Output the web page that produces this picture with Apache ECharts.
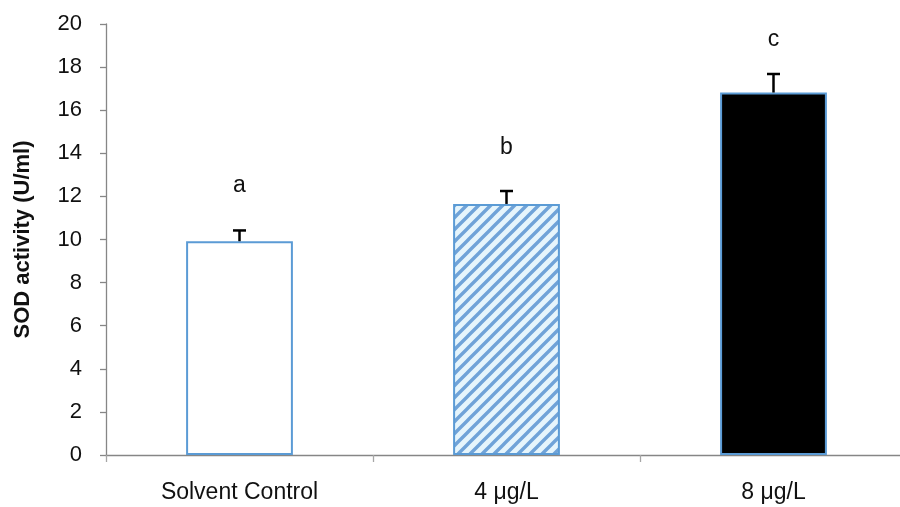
<!DOCTYPE html>
<html>
<head>
<meta charset="utf-8">
<script src="https://cdn.jsdelivr.net/npm/echarts@6/dist/echarts.min.js"></script>
<style>
html,body{margin:0;padding:0;background:#fff;overflow:hidden;}
#c{width:900px;height:507px;}
</style>
</head>
<body>
<div id="c"></div>
<script>
var categories = ['Solvent Control', '4 μg/L', '8 μg/L'];
var values = [9.92, 11.65, 16.82];
var errors = [0.5, 0.6, 0.86];
var letters = ['a', 'b', 'c'];
var letterY = [12.48, 14.25, 19.26];
var yTicks = {min: 0, max: 20, interval: 2};

var FONT = '"Liberation Sans", Arial, sans-serif';

// hatch pattern
var pc = document.createElement('canvas');
pc.width = 12; pc.height = 12;
var g = pc.getContext('2d');
g.fillStyle = '#e6f5fc';
g.fillRect(0, 0, 12, 12);
g.strokeStyle = '#70a3d8';
g.lineWidth = 3.4;
g.beginPath();
for (var k = -1; k <= 1; k++) {
  g.moveTo(k * 12 - 2, 14);
  g.lineTo(k * 12 + 14, -2);
}
g.stroke();

var fills = ['#ffffff', {image: pc, repeat: 'repeat'}, '#000000'];

var chart = echarts.init(document.getElementById('c'));
chart.setOption({
  animation: false,
  grid: {left: 106, width: 801, top: 24, bottom: 52, containLabel: false, outerBoundsMode: 'none'},
  xAxis: {
    type: 'category',
    data: categories,
    axisLine: {lineStyle: {color: '#868686', width: 1.3}},
    axisTick: {show: true, length: 7, alignWithLabel: false, lineStyle: {color: '#a6a6a6', width: 1.3}},
    axisLabel: {color: '#111', fontFamily: FONT, fontSize: 23, margin: 26}
  },
  yAxis: {
    type: 'value',
    min: yTicks.min, max: yTicks.max, interval: yTicks.interval,
    name: 'SOD activity (U/ml)',
    nameLocation: 'middle',
    nameGap: 72,
    nameTextStyle: {color: '#111', fontFamily: FONT, fontSize: 22, fontWeight: 'bold'},
    axisLine: {show: true, lineStyle: {color: '#868686', width: 1.3}},
    axisTick: {show: true, length: 6, lineStyle: {color: '#868686', width: 1.3}},
    splitLine: {show: false},
    axisLabel: {color: '#111', fontFamily: FONT, fontSize: 22, margin: 24}
  },
  series: [
    {
      type: 'bar',
      barWidth: '40%',
      data: values.map(function (v, i) {
        return {value: v, itemStyle: {color: fills[i], borderColor: '#5b9bd5', borderWidth: 2}};
      }),
      z: 2
    },
    {
      type: 'custom',
      z: 3,
      data: values.map(function (v, i) { return [i, v, v + errors[i]]; }),
      renderItem: function (params, api) {
        var base = api.coord([api.value(0), api.value(1)]);
        var top = api.coord([api.value(0), api.value(2)]);
        var half = 6.5;
        return {
          type: 'group',
          children: [
            {type: 'line', shape: {x1: base[0], y1: base[1], x2: top[0], y2: top[1]}, style: {stroke: '#000', lineWidth: 2.5}},
            {type: 'line', shape: {x1: top[0] - half, y1: top[1], x2: top[0] + half, y2: top[1]}, style: {stroke: '#000', lineWidth: 2.5}}
          ]
        };
      }
    },
    {
      type: 'custom',
      z: 4,
      data: letterY.map(function (y, i) { return [i, y, letters[i]]; }),
      renderItem: function (params, api) {
        var p = api.coord([api.value(0), api.value(1)]);
        return {
          type: 'text',
          style: {
            x: p[0], y: p[1], text: letters[params.dataIndex],
            fill: '#111', font: '23px ' + FONT,
            textAlign: 'center', textVerticalAlign: 'middle'
          }
        };
      }
    }
  ]
});
</script>
</body>
</html>
